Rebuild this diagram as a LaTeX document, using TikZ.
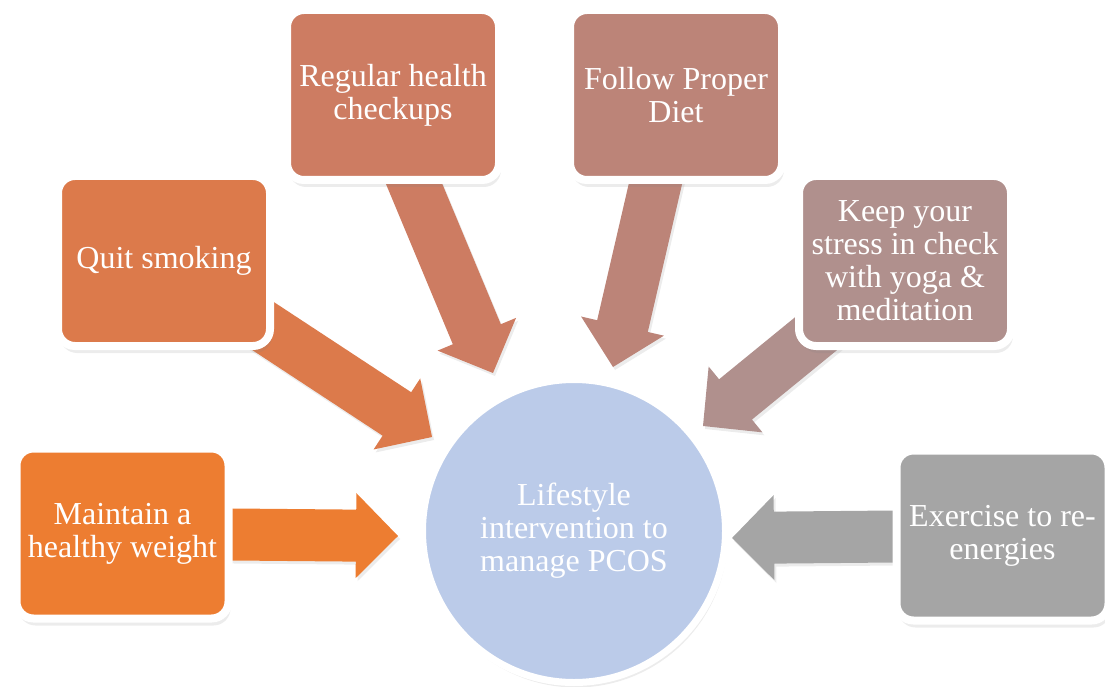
\documentclass[tikz,border=0pt]{standalone}
\usepackage{fontspec}
\setmainfont{Liberation Serif}
\usetikzlibrary{calc,shadows,backgrounds}

\definecolor{weightc}{HTML}{ED7D31}
\definecolor{smokec}{HTML}{DC7A4B}
\definecolor{checkc}{HTML}{CD7C62}
\definecolor{dietc}{HTML}{BC8478}
\definecolor{stressc}{HTML}{B0908D}
\definecolor{exercisec}{HTML}{A5A5A5}
\definecolor{hubc}{HTML}{BBCBE9}

% block arrow: start, tip, colour
\newcommand{\blockarrow}[3]{%
    \coordinate (h) at ($(#2)!42pt!(#1)$);
    \fill[#3, arrowshadow] (#2)
        -- ($(h)!42.5pt!90:(#2)$) -- ($(h)!26pt!90:(#2)$)
        -- ($(#1)!26pt!90:(#2)$) -- ($(#1)!26pt!-90:(#2)$)
        -- ($(h)!26pt!-90:(#2)$) -- ($(h)!42.5pt!-90:(#2)$) -- cycle;
}

\begin{document}
\begin{tikzpicture}[x=1pt, y=-1pt,
    box/.style={rectangle, rounded corners=17pt, draw=white, line width=8pt,
        minimum width=212pt, minimum height=170pt, inner sep=0pt,
        text=white, align=center, font=\fontsize{32}{33}\selectfont,
        drop shadow={opacity=0.15, shadow xshift=2pt, shadow yshift=-7pt}},
    hub/.style={circle, fill=hubc, draw=white, line width=7pt,
        minimum size=303pt, inner sep=0pt,
        text=white, align=center, font=\fontsize{32}{33}\selectfont,
        drop shadow={opacity=0.15, shadow xshift=2pt, shadow yshift=-5pt}},
    arrowshadow/.style={drop shadow={opacity=0.15, shadow xshift=2pt, shadow yshift=-3pt}}]

    \useasboundingbox (0,0) rectangle (1105,687);

    % centre
    \node[hub] (pcos) at (574,531) {Lifestyle\\intervention to\\manage PCOS};

    % outer boxes
    \node[box, fill=weightc] (weight) at (122.5,533.5) {Maintain a\\healthy weight};
    \node[box, fill=smokec] (smoke) at (164,261) {Quit smoking};
    \node[box, fill=checkc] (check) at (393,95) {Regular health\\checkups};
    \node[box, fill=dietc] (diet) at (676,95) {Follow Proper\\Diet};
    \node[box, fill=stressc] (stress) at (905,261) {Keep your\\stress in check\\with yoga \&\\meditation};
    \node[box, fill=exercisec] (exercise) at (1002.5,535.5) {Exercise to re-\\energies};

    % arrow tips
    \coordinate (tweight) at (398,536);
    \coordinate (tsmoke) at (432,437);
    \coordinate (tcheck) at (493,373);
    \coordinate (tdiet) at (613,367);
    \coordinate (tstress) at (703,426);
    \coordinate (texercise) at (732,538);

    % arrows behind the boxes
    \begin{scope}[on background layer]
        \blockarrow{weight}{tweight}{weightc}
        \blockarrow{smoke}{tsmoke}{smokec}
        \blockarrow{$(check)+(-16,0)$}{tcheck}{checkc}
        \blockarrow{diet}{tdiet}{dietc}
        \blockarrow{stress}{tstress}{stressc}
        \blockarrow{exercise}{texercise}{exercisec}
    \end{scope}
\end{tikzpicture}
\end{document}
